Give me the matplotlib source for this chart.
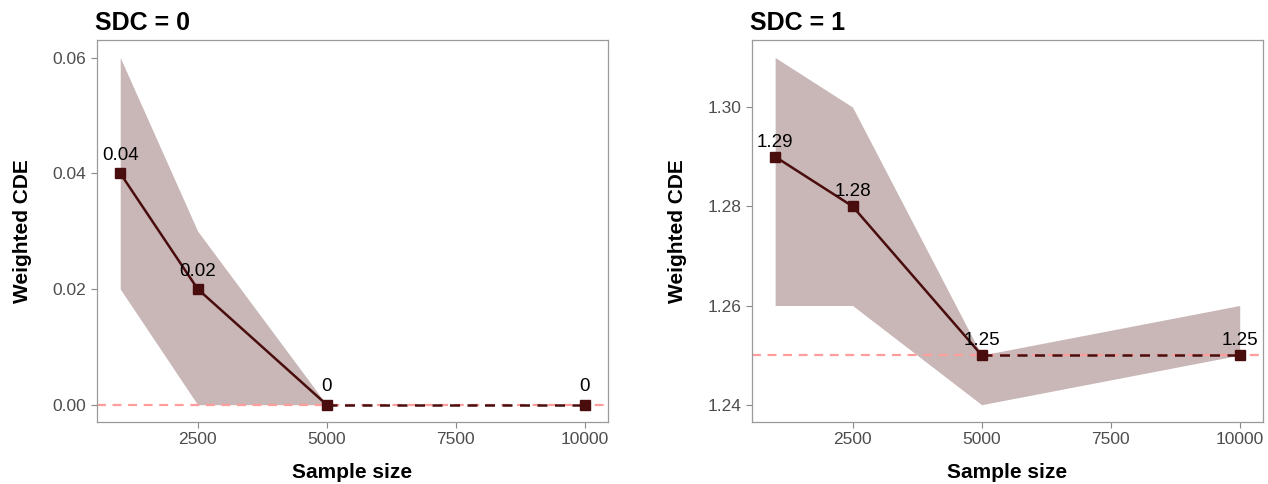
import matplotlib.pyplot as plt

plt.rcParams['font.family'] = ['Liberation Sans', 'DejaVu Sans']

sample_size = [1000, 2500, 5000, 10000]

# SDC = 0
cde0 = [0.04, 0.02, 0.0, 0.0]
lo0 = [0.02, 0.0, 0.0, 0.0]
hi0 = [0.06, 0.03, 0.0, 0.0]
lab0 = ['0.04', '0.02', '0', '0']
ref0 = 0.0

# SDC = 1
cde1 = [1.29, 1.28, 1.25, 1.25]
lo1 = [1.26, 1.26, 1.24, 1.25]
hi1 = [1.31, 1.30, 1.25, 1.26]
lab1 = ['1.29', '1.28', '1.25', '1.25']
ref1 = 1.25

xticks = [2500, 5000, 7500, 10000]
yticks0 = [0.00, 0.02, 0.04, 0.06]
yticks1 = [1.24, 1.26, 1.28, 1.30]

line_col = '#4a0d0d'
band_col = '#c9b6b6'
ref_col = '#ff9c9c'
grey = '#4d4d4d'

fig = plt.figure(figsize=(12.68, 4.84), dpi=100)
ax0 = fig.add_axes([0.0765, 0.128, 0.403, 0.789])
ax1 = fig.add_axes([0.593, 0.128, 0.403, 0.789])


def panel(ax, cde, lo, hi, labs, ref, yticks, ylim, title, lab_off):
    ax.fill_between(sample_size, lo, hi, color=band_col, lw=0, zorder=1)
    ax.axhline(ref, color=ref_col, ls=(0, (4, 3)), lw=1.6, zorder=2)
    ax.plot(sample_size[:3], cde[:3], color=line_col, lw=1.8, zorder=3)
    ax.plot(sample_size[2:], cde[2:], color=line_col, lw=1.8, ls=(0, (4, 3)), zorder=3)
    ax.plot(sample_size, cde, ls='none', marker='s', ms=7, color=line_col, zorder=4)
    for x, y, t in zip(sample_size, cde, labs):
        ax.text(x, y + lab_off, t, ha='center', va='bottom', fontsize=13.5, color='black')
    ax.set_xlim(550, 10450)
    ax.set_ylim(*ylim)
    ax.set_xticks(xticks)
    ax.set_yticks(yticks)
    ax.set_yticklabels(['{:.2f}'.format(v) for v in yticks])
    ax.tick_params(colors='#888888', labelcolor=grey, labelsize=12.5, length=4, width=0.8)
    for s in ax.spines.values():
        s.set_color('#9a9a9a')
        s.set_linewidth(0.9)
    ax.set_xlabel('Sample size', fontsize=15, fontweight='bold', labelpad=11)
    ax.set_ylabel('Weighted CDE', fontsize=15, fontweight='bold', labelpad=15)
    ax.set_title(title, loc='left', fontsize=18, fontweight='bold', pad=7, x=-0.003)


panel(ax0, cde0, lo0, hi0, lab0, ref0, yticks0, (-0.003, 0.063), 'SDC = 0', 0.0016)
panel(ax1, cde1, lo1, hi1, lab1, ref1, yticks1, (1.2365, 1.3135), 'SDC = 1', 0.0012)

fig.savefig('out.png', dpi=100)
